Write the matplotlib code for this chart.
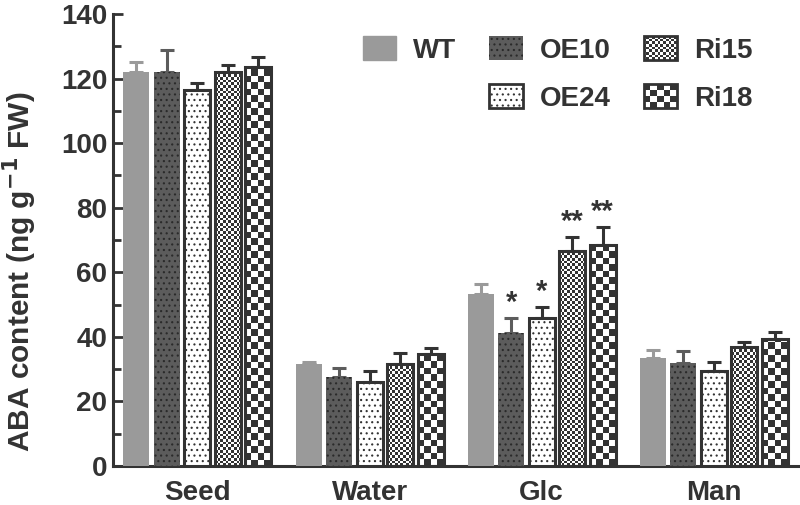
import numpy as np
import matplotlib
matplotlib.use("Agg")
import matplotlib.pyplot as plt
from matplotlib.patches import Rectangle, Patch
from matplotlib.legend_handler import HandlerBase

plt.rcParams['font.family'] = ['Liberation Sans', 'DejaVu Sans']
plt.rcParams['font.weight'] = 'bold'
plt.rcParams['hatch.linewidth'] = 0.8

# data
groups = ['Seed', 'Water', 'Glc', 'Man']
lines = ['WT', 'OE10', 'OE24', 'Ri15', 'Ri18']
wt = [122, 31.5, 53.4, 33.5]
wt_err = [3, 0.8, 3.1, 2.3]
oe10 = [122, 27.5, 41.3, 32]
oe10_err = [6.7, 2.8, 4.4, 3.7]
oe24 = [116.5, 26, 45.7, 29.5]
oe24_err = [2.2, 3.4, 3.4, 2.8]
ri15 = [122, 31.5, 66.5, 37]
ri15_err = [2.2, 3.6, 4.3, 1.3]
ri18 = [123.5, 34.8, 68.3, 39.2]
ri18_err = [3.3, 1.8, 5.6, 2.3]
stars = {(2, 1): '*', (2, 2): '*', (2, 3): '**', (2, 4): '**'}

means = [wt, oe10, oe24, ri15, ri18]
errs = [wt_err, oe10_err, oe24_err, ri15_err, ri18_err]

DARK = '#333333'
GRAY = '#9a9a9a'
MID = '#5c5c5c'

fig = plt.figure(figsize=(8, 5.05), dpi=100)
ax = fig.add_axes([113 / 800, 39 / 505, 687 / 800, 452 / 505])
ax.set_xlim(-0.49, 3.5)
ax.set_ylim(0, 140)

x = np.arange(len(groups))
pitch = 0.177
width = 0.151

# pixel size of one data unit, used for checker cells
pxx = 687 / 3.99
pxy = 452 / 140


def checker_fill(bar, cell_px):
    x0, y0 = bar.get_x(), bar.get_y()
    w, h = bar.get_width(), bar.get_height()
    cx, cy = cell_px / pxx, cell_px / pxy
    nx, ny = int(np.ceil(w / cx)), int(np.ceil(h / cy))
    arr = (np.add.outer(np.arange(ny), np.arange(nx)) % 2).astype(float)
    im = ax.imshow(arr, extent=(x0, x0 + nx * cx, y0, y0 + ny * cy), origin='lower',
                   cmap=matplotlib.colors.ListedColormap(['white', DARK]),
                   interpolation='nearest', aspect='auto', zorder=2)
    im.set_clip_path(bar)


styles = [
    dict(color=GRAY, edgecolor=GRAY, linewidth=0),
    dict(color=MID, edgecolor=MID, linewidth=0),
    dict(color='white', edgecolor=DARK, linewidth=2.2),
    dict(color='none', edgecolor=DARK, linewidth=2.2),
    dict(color='none', edgecolor=DARK, linewidth=2.2),
]
err_colors = [GRAY, MID, DARK, DARK, DARK]

for k in range(5):
    xs = x + (k - 2) * pitch
    ax.errorbar(xs, means[k], yerr=[np.zeros(4), errs[k]], fmt='none',
                ecolor=err_colors[k], elinewidth=2.2, capsize=5, capthick=2.2, zorder=1)
    bars = ax.bar(xs, means[k], width, zorder=3, **styles[k])
    if k == 1:
        ax.bar(xs, means[k], width, color='none', edgecolor='#2a2a2a', linewidth=0,
               hatch='...', zorder=3)
    if k == 2:
        ax.bar(xs, means[k], width, color='none', edgecolor=DARK, linewidth=0,
               hatch='...', zorder=3)
    if k == 3:
        for b in bars:
            checker_fill(b, 2.7)
    if k == 4:
        for b in bars:
            checker_fill(b, 6.5)

for (g, k), s in stars.items():
    top = means[k][g] + errs[k][g]
    ax.text(x[g] + (k - 2) * pitch, top + 0.6, s, ha='center', va='bottom',
            fontsize=21, color=DARK)

ax.set_xlim(-0.49, 3.5)
ax.set_ylim(0, 140)

for s in ['top', 'right']:
    ax.spines[s].set_visible(False)
for s in ['left', 'bottom']:
    ax.spines[s].set_linewidth(2.2)
    ax.spines[s].set_color(DARK)

ax.set_yticks(np.arange(0, 141, 20))
ax.set_yticks(np.arange(10, 140, 20), minor=True)
ax.tick_params(axis='y', which='major', direction='in', length=7, width=2, color=DARK,
               labelsize=20, labelcolor=DARK, pad=4)
ax.tick_params(axis='y', which='minor', direction='in', length=6, width=2, color=DARK)
ax.set_xticks(x)
ax.set_xticklabels(groups)
ax.tick_params(axis='x', length=0, labelsize=20, labelcolor=DARK, pad=10)
ax.set_ylabel('ABA content (ng g$^{\\mathbf{-1}}$ FW)', fontsize=21.5, color=DARK,
              fontweight='bold')
ax.yaxis.set_label_coords(-0.107, 0.43)


class CheckerHandler(HandlerBase):
    def __init__(self, nx):
        super().__init__()
        self.nx = nx

    def create_artists(self, legend, orig_handle, xdescent, ydescent, width,
                       height, fontsize, trans):
        arts = []
        nx = self.nx
        ny = max(1, int(round(nx * height / width)))
        cw, ch = width / nx, height / ny
        for i in range(nx):
            for j in range(ny):
                if (i + j) % 2:
                    arts.append(Rectangle((-xdescent + i * cw, -ydescent + j * ch), cw, ch,
                                          facecolor=DARK, edgecolor='none', transform=trans))
        arts.append(Rectangle((-xdescent, -ydescent), width, height, facecolor='none',
                              edgecolor=DARK, linewidth=2, transform=trans))
        return arts


h_wt = Patch(facecolor=GRAY, edgecolor=GRAY)
h_blank = Patch(facecolor='none', edgecolor='none')
h_oe10 = Patch(facecolor=MID, edgecolor='#2a2a2a', linewidth=0, hatch='...')
h_oe24 = Patch(facecolor='white', edgecolor=DARK, linewidth=2, hatch='...')
h_ri15 = Patch(facecolor='white', edgecolor=DARK)
h_ri18 = Patch(facecolor='white', edgecolor=DARK)

leg = fig.legend([h_wt, h_blank, h_oe10, h_oe24, h_ri15, h_ri18],
                 ['WT', '', 'OE10', 'OE24', 'Ri15', 'Ri18'],
                 ncol=3, loc='upper left', bbox_to_anchor=(363 / 800, 1 - 36 / 505),
                 frameon=False, fontsize=20, handlelength=1.2, handleheight=0.95,
                 handletextpad=0.6, columnspacing=1.2, labelspacing=0.75,
                 borderpad=0, borderaxespad=0,
                 handler_map={h_ri15: CheckerHandler(12), h_ri18: CheckerHandler(5)})
for t in leg.get_texts():
    t.set_color(DARK)

fig.savefig('out.png', dpi=100)
